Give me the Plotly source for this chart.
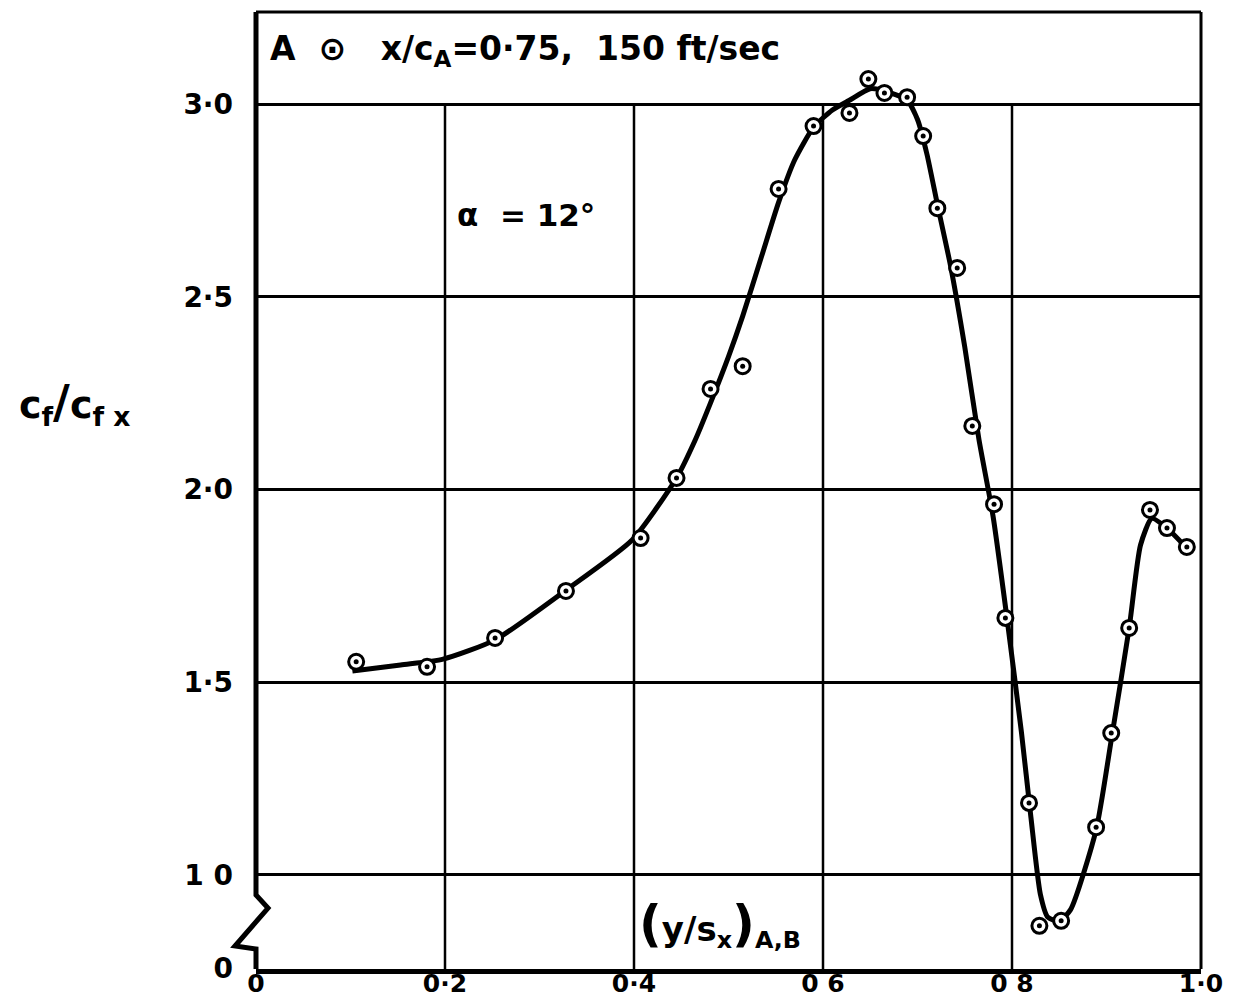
import plotly.graph_objects as go

# measured points (circle-dot markers)
x_pts = [0.106, 0.181, 0.253, 0.328, 0.407, 0.445, 0.481, 0.515, 0.553, 0.590,
         0.628, 0.648, 0.665, 0.689, 0.706, 0.721, 0.742, 0.758, 0.781, 0.793,
         0.818, 0.829, 0.852, 0.889, 0.905, 0.924, 0.946, 0.964, 0.985]
y_pts = [1.553, 1.540, 1.615, 1.737, 1.874, 2.030, 2.261, 2.320, 2.780, 2.943,
         2.977, 3.065, 3.029, 3.018, 2.917, 2.730, 2.575, 2.165, 1.962, 1.667,
         1.187, 0.868, 0.881, 1.124, 1.368, 1.641, 1.947, 1.900, 1.851]

# faired curve
x_curve = [0.102, 0.153, 0.198, 0.253, 0.328, 0.398, 0.445, 0.465, 0.481, 0.500,
           0.515, 0.535, 0.553, 0.570, 0.590, 0.610, 0.628, 0.650, 0.668, 0.689,
           0.700, 0.710, 0.721, 0.735, 0.750, 0.765, 0.780, 0.795, 0.810, 0.820,
           0.830, 0.838, 0.850, 0.862, 0.889, 0.905, 0.924, 0.936, 0.948, 0.964,
           0.985]
y_curve = [1.529, 1.545, 1.560, 1.610, 1.739, 1.869, 2.030, 2.130, 2.225, 2.345,
           2.450, 2.605, 2.745, 2.855, 2.940, 2.985, 3.010, 3.040, 3.032, 3.010,
           2.960, 2.870, 2.740, 2.580, 2.370, 2.130, 1.930, 1.660, 1.370, 1.150,
           0.950, 0.890, 0.880, 0.910, 1.117, 1.350, 1.641, 1.856, 1.925, 1.900,
           1.848]

x_tickvals = [0, 0.2, 0.4, 0.6, 0.8, 1.0]
x_ticktext = ["0", "0·2", "0·4", "0 6", "0 8", "1·0"]
y_tickvals = [0.758, 1.0, 1.5, 2.0, 2.5, 3.0]
y_ticktext = ["0", "1 0", "1·5", "2·0", "2·5", "3·0"]
x_grid = [0.2, 0.4, 0.6, 0.8]

Y_MIN, Y_MAX = 0.756, 3.239
FONT = "DejaVu Sans"

fig = go.Figure()
fig.add_trace(go.Scatter(x=x_curve, y=y_curve, mode="lines",
                         line=dict(color="black", width=5, shape="spline", smoothing=0.6),
                         hoverinfo="skip", showlegend=False))
fig.add_trace(go.Scatter(x=x_pts, y=y_pts, mode="markers",
                         marker=dict(symbol="circle", size=15, color="white",
                                     line=dict(color="black", width=3)),
                         showlegend=False))
fig.add_trace(go.Scatter(x=x_pts, y=y_pts, mode="markers",
                         marker=dict(symbol="circle", size=5, color="black"),
                         hoverinfo="skip", showlegend=False))

shapes = []
for v in x_grid:
    shapes.append(dict(type="line", xref="x", yref="y", x0=v, x1=v, y0=Y_MIN, y1=3.0,
                       line=dict(color="black", width=2.5), layer="below"))
# top and right frame
shapes.append(dict(type="line", xref="paper", yref="paper", x0=0, x1=1, y0=1, y1=1,
                   line=dict(color="black", width=3)))
shapes.append(dict(type="line", xref="paper", yref="paper", x0=1, x1=1, y0=0, y1=1,
                   line=dict(color="black", width=3)))
# left frame with axis break
shapes.append(dict(type="path", xref="paper", yref="paper",
                   path="M 0 1 L 0 0.0773 L 0.0127 0.0637 L -0.0222 0.0240 L 0 0.0209 L 0 0",
                   line=dict(color="black", width=5)))

fig.update_layout(
    width=1220, height=989,
    margin=dict(l=248, r=27, t=4, b=28, autoexpand=False),
    paper_bgcolor="white", plot_bgcolor="white",
    font=dict(family=FONT, color="black"),
    shapes=shapes,
    xaxis=dict(range=[0, 1.0], tickvals=x_tickvals, ticktext=x_ticktext,
               showgrid=False, zeroline=False, showline=True, linecolor="black",
               linewidth=5, ticks="", automargin=False, ticklabelstandoff=-12,
               tickfont=dict(family=FONT, size=25, color="black", weight="bold")),
    yaxis=dict(range=[Y_MIN, Y_MAX], tickvals=y_tickvals, ticktext=y_ticktext,
               showgrid=True, gridcolor="black", gridwidth=2.5, zeroline=False,
               showline=False, ticks="", ticklabelstandoff=22, automargin=False,
               tickfont=dict(family=FONT, size=28, color="black", weight="bold")),
    annotations=[
        dict(xref="paper", yref="paper", x=0.0127, y=0.960, xanchor="left", yanchor="middle",
             text="A  ⊙   x/c<sub>A</sub>=0·75,  150 ft/sec", showarrow=False,
             font=dict(family=FONT, size=33, color="black", weight="bold")),
        dict(xref="paper", yref="paper", x=0.2106, y=0.788, xanchor="left", yanchor="middle",
             text="α  = 12°", showarrow=False,
             font=dict(family=FONT, size=31, color="black", weight="bold")),
        dict(xref="paper", yref="paper", x=0.491, y=0.046, xanchor="center", yanchor="middle",
             text="<span style='font-size:50px'>(</span>y/s<sub>x</sub><span style='font-size:50px'>)</span><sub>A,B</sub>",
             showarrow=False,
             font=dict(family=FONT, size=34, color="black", weight="bold")),
        dict(xref="paper", yref="paper", x=-0.192, y=0.591, xanchor="center", yanchor="middle",
             text="c<sub>f</sub><span style='font-size:46px'>/</span>c<sub>f x</sub>", showarrow=False,
             font=dict(family=FONT, size=38, color="black", weight="bold")),
    ],
)

fig.write_html("out.html")
